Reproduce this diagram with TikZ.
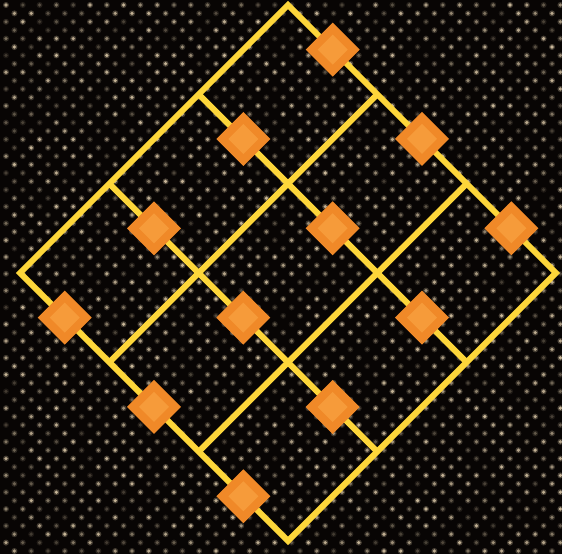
\documentclass[tikz,border=0pt]{standalone}
\usetikzlibrary{shapes.geometric}
\definecolor{bg}{RGB}{8,5,4}
\definecolor{dotc}{RGB}{235,215,180}
\definecolor{gridc}{RGB}{253,214,58}
\definecolor{ordark}{RGB}{240,137,40}
\definecolor{orlight}{RGB}{246,155,58}
\tikzset{
  gridline/.style={draw=gridc,line width=6pt},
  gem/.style={diamond,fill=ordark,inner sep=0pt,outer sep=0pt,
    minimum width=54pt,minimum height=54pt,
    path picture={\fill[orlight] (path picture bounding box.center)
      +(-15pt,0pt) -- +(0pt,-15pt) -- +(15pt,0pt) -- +(0pt,15pt) -- cycle;}}
}
\begin{document}
\begin{tikzpicture}[x=1pt,y=-1pt]
\fill[bg] (0,0) rectangle (562,554);
\useasboundingbox (0,0) rectangle (562,554);
\pgfmathsetseed{7}
\foreach \r in {0,...,66}{
  \foreach \c in {0,...,34}{
    \pgfmathsetmacro\xx{\c*16.8+mod(\r,2)*8.4+6}
    \pgfmathsetmacro\yy{\r*8.4+5}
    \pgfmathsetmacro\bb{25+60*rnd}
    \pgfmathsetmacro\hh{0.35*\bb}
    \fill[dotc!\hh!bg] (\xx,\yy) circle (3pt);
    \fill[dotc!\bb!bg] (\xx,\yy) circle (1.8pt);
  }
}
\foreach \i in {0,...,3}{
  \foreach \j in {0,...,3}{
    \coordinate (p\i\j) at ({288+89.33*\i-89.33*\j},{5+89.33*\i+89.33*\j});
  }
}
\foreach \k in {1,2}{
  \draw[gridline] (p0\k) -- (p3\k);
  \draw[gridline] (p\k0) -- (p\k3);
}
\draw[gridline,line join=miter] (p00) -- (p30) -- (p33) -- (p03) -- cycle;
\foreach \i in {0,1,2}{
  \foreach \j in {0,...,3}{
    \node[gem] (d\i\j) at ({288+89.33*(\i+0.5)-89.33*\j},{5+89.33*(\i+0.5)+89.33*\j}) {};
  }
}
\end{tikzpicture}
\end{document}
